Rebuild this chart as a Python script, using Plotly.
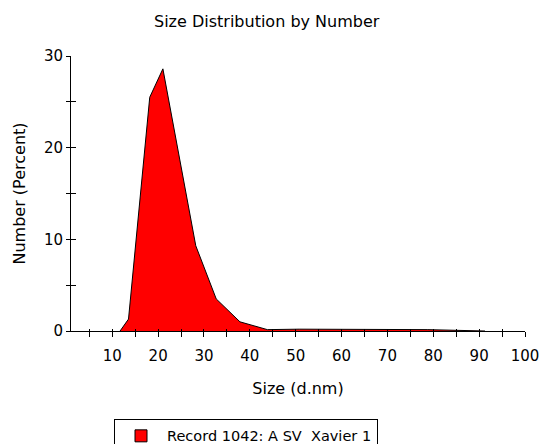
import plotly.graph_objects as go

sizes = [11.70, 13.54, 18.17, 21.04, 28.21, 32.67, 37.84, 43.82, 50.75, 58.77, 68.06, 78.82, 91.28]
number_pct = [0, 1.3, 25.5, 28.6, 9.3, 3.5, 1.0, 0.15, 0.2, 0.2, 0.2, 0.15, 0]
x_ticks = [10, 20, 30, 40, 50, 60, 70, 80, 90, 100]
y_ticks = [0, 10, 20, 30]
series_name = "Record 1042: A SV\u00a0\u00a0Xavier 1"

FONT = "DejaVu Sans, Verdana, sans-serif"

fig = go.Figure()
fig.add_trace(go.Scatter(
    x=sizes, y=number_pct, mode="lines", fill="tozeroy",
    fillcolor="#FF0000", line=dict(color="black", width=1),
    name=series_name, showlegend=False,
))
# legend swatch proxy (no data drawn)
fig.add_trace(go.Bar(x=[None], y=[None], name=series_name, showlegend=True,
                     marker=dict(color="#FF0000", line=dict(color="black", width=1))))
fig.add_trace(go.Scatter(x=[None], y=[None], xaxis="x2", yaxis="y2", showlegend=False))

axis_common = dict(showgrid=False, zeroline=False, showline=True, linecolor="black",
                   linewidth=1, tickcolor="black", tickwidth=1, ticklabeloverflow="allow",
                   tickfont=dict(family=FONT, size=15, color="black"))

fig.update_layout(
    width=539, height=444,
    margin=dict(l=71, r=14, t=56, b=113, autoexpand=False),
    paper_bgcolor="white", plot_bgcolor="white",
    font=dict(family=FONT, size=15, color="black"),
    title=dict(text="Size Distribution by Number", x=266.7 / 539, xanchor="center",
               xref="container", yref="container",
               y=1 - 21 / 444, yanchor="middle", font=dict(family=FONT, size=16)),
    xaxis=dict(range=[1, 100], tickvals=x_ticks, ticktext=[str(v) for v in x_ticks],
               ticks="outside", ticklen=5, ticklabelstandoff=6,
               minor=dict(dtick=5, tick0=0, ticks="outside", ticklen=5, tickcolor="black"),
               title=dict(text="Size (d.nm)", standoff=18, font=dict(family=FONT, size=16)),
               **axis_common),
    yaxis=dict(range=[0, 30], tickvals=y_ticks, ticktext=[str(v) for v in y_ticks],
               ticks="outside", ticklen=4, ticklabelstandoff=0,
               minor=dict(dtick=5, tick0=0, ticks="outside", ticklen=4, tickcolor="black"),
               title=dict(text="Number (Percent)", standoff=14, font=dict(family=FONT, size=16)),
               **axis_common),
    xaxis2=dict(overlaying="x", matches="x", range=[1, 100], anchor="y2", showgrid=False,
                zeroline=False, showline=False, tickvals=list(range(5, 101, 5)),
                ticks="inside", ticklen=2, tickcolor="black", showticklabels=False, side="bottom"),
    yaxis2=dict(overlaying="y", matches="y", range=[0, 30], anchor="x2", showgrid=False,
                zeroline=False, showline=False, tickvals=list(range(0, 31, 5)),
                ticks="inside", ticklen=5, tickcolor="black", showticklabels=False, side="left"),
    legend=dict(x=(114 - 71) / 454, xanchor="left", y=(331 - 419) / 275.3, yanchor="top",
                bordercolor="black", borderwidth=1, bgcolor="white", itemwidth=42,
                font=dict(family=FONT, size=14.5)),
    showlegend=True,
)

fig.write_html("out.html")
